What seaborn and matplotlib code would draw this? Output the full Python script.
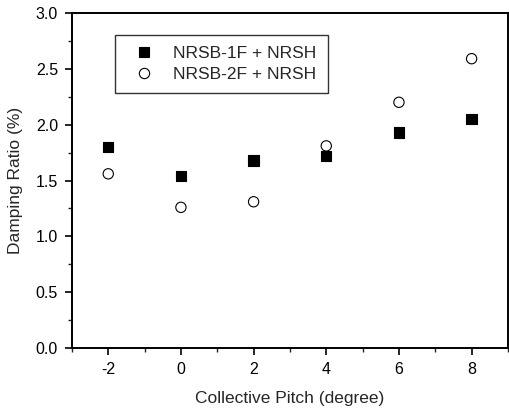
import pandas as pd
import numpy as np
import matplotlib
matplotlib.use("Agg")
import matplotlib.pyplot as plt
from matplotlib.ticker import MultipleLocator
import seaborn as sns

# datos
pitch = [-2, 0, 2, 4, 6, 8]
nrsb_1f = [1.80, 1.54, 1.68, 1.72, 1.93, 2.05]
nrsb_2f = [1.56, 1.26, 1.31, 1.81, 2.20, 2.59]
series = ["NRSB-1F + NRSH", "NRSB-2F + NRSH"]

df = pd.DataFrame({
    "pitch": pitch * 2,
    "damping": nrsb_1f + nrsb_2f,
    "serie": [series[0]] * len(pitch) + [series[1]] * len(pitch),
})

sns.set_style("ticks")
plt.rcParams["font.family"] = ["Liberation Sans", "DejaVu Sans"]
plt.rcParams["axes.unicode_minus"] = False

fig = plt.figure(figsize=(5.1, 4.15), dpi=100)
ax = fig.add_axes([0.141, 0.161, 0.855, 0.808])

sns.scatterplot(data=df, x="pitch", y="damping", style="serie", hue="serie",
                markers={series[0]: "s", series[1]: "o"},
                palette={series[0]: "black", series[1]: "white"},
                edgecolor="black", linewidth=0.8, s=55, ax=ax)

ax.set_xlim(-3, 9)
ax.set_ylim(0, 3.0)
ax.xaxis.set_major_locator(MultipleLocator(2))
ax.xaxis.set_minor_locator(MultipleLocator(1))
ax.yaxis.set_major_locator(MultipleLocator(0.5))
ax.yaxis.set_minor_locator(MultipleLocator(0.25))
ax.yaxis.set_major_formatter(plt.FormatStrFormatter("%.1f"))
ax.tick_params(which="major", length=5, width=1.2, labelsize=11.5, colors="black", pad=5)
ax.tick_params(which="minor", length=3, width=1)
for sp in ax.spines.values():
    sp.set_linewidth(1.4)
    sp.set_color("black")

ax.set_xlabel("Collective Pitch (degree)", fontsize=12.5, labelpad=10)
ax.set_ylabel("Damping Ratio (%)", fontsize=12.5, labelpad=9)

leg = ax.legend(loc="upper left", bbox_to_anchor=(0.099, 0.934), borderaxespad=0,
                fontsize=12.5, frameon=True, fancybox=False, title=None,
                handletextpad=0.7, borderpad=0.65, labelspacing=0.3)
leg.get_frame().set_edgecolor("black")
leg.get_frame().set_linewidth(1.0)

fig.savefig("out.png", dpi=100)
